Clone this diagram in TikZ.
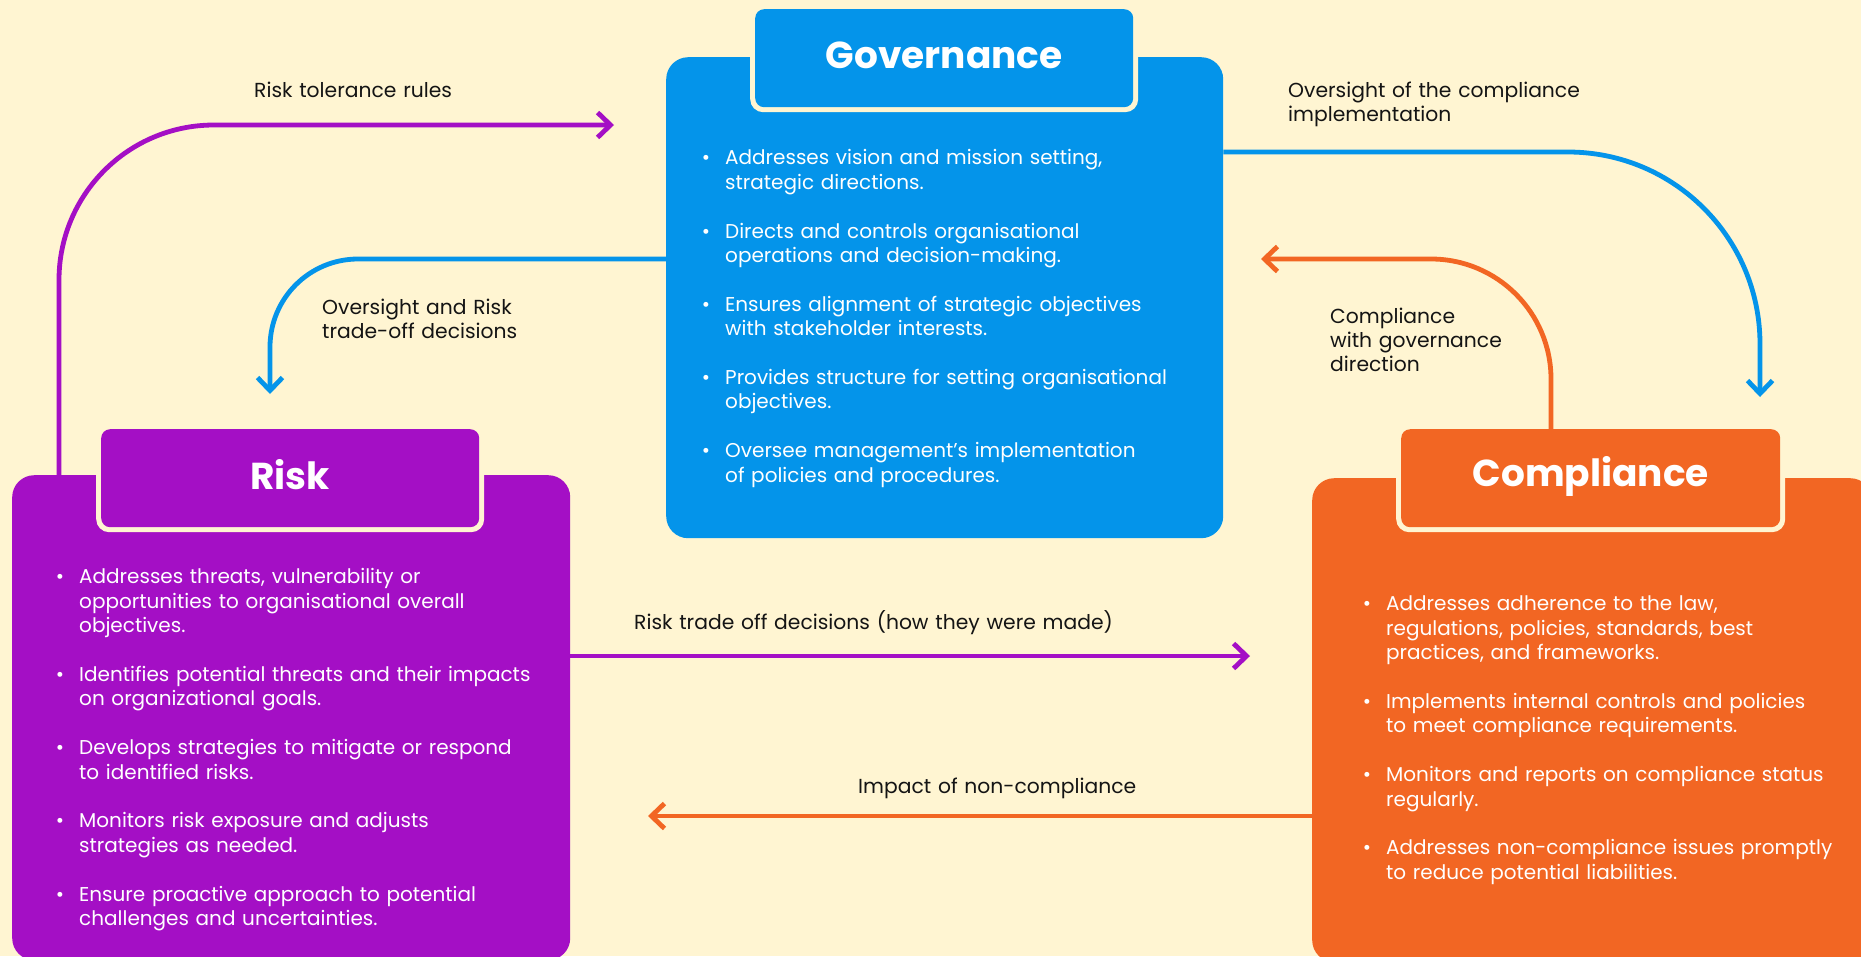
\documentclass[tikz,border=0pt]{standalone}
\usepackage{fontspec}
\setmainfont{Poppins}
\usetikzlibrary{arrows.meta,calc}

\definecolor{cream}{HTML}{FFF5D2}
\definecolor{govblue}{HTML}{0494EA}
\definecolor{riskpurple}{HTML}{A40FC5}
\definecolor{comporange}{HTML}{F26623}
\definecolor{labelink}{HTML}{141414}

% one bullet paragraph, the dot hangs in the left margin
\newcommand{\bpoint}{\par\noindent\llap{\textbullet\hspace{15pt}}}

\tikzset{
  mainbox/.style={rectangle, rounded corners=22pt, inner sep=0pt, anchor=north west},
  titleedge/.style={rectangle, rounded corners=13pt, inner sep=0pt, anchor=north west,
    fill=cream, minimum height=108pt},
  titlebox/.style={rectangle, rounded corners=9pt, inner sep=0pt, anchor=north west,
    minimum height=98pt},
  titletext/.style={inner sep=0pt, text=white, font=\fontsize{37.5}{42}\selectfont\bfseries},
  bodytext/.style={anchor=base west, inner sep=0pt, text width=560pt, align=left,
    text=white, font=\fontsize{20}{24.4}\selectfont},
  lbl/.style={anchor=base west, inner sep=0pt, text width=460pt, align=left,
    text=labelink, font=\fontsize{20.3}{24}\selectfont},
  flow/.style={line width=4.8pt,
    -{Straight Barb[length=13pt,width=25pt]}},
}

\begin{document}
\begin{tikzpicture}[x=1pt,y=-1pt]
  % canvas
  \fill[cream] (0,0) rectangle (1861,956);
  \useasboundingbox (0,0) rectangle (1861,956);

  % ---------- Governance ----------
  \node[mainbox, fill=govblue, minimum width=557pt, minimum height=481pt] (gov) at (666,57) {};
  \node[titleedge, minimum width=388pt] (govte) at (750,4) {};
  \node[titlebox, fill=govblue, minimum width=378pt] (govt) at (755,9) {};
  \node[titletext] (govtt) at ($(govt.center)+(0,-3)$) {Governance};
  \node[bodytext] (govtxt) at (725,116) {\parskip=24.4pt
    \bpoint Addresses vision and mission setting,\\ strategic directions.
    \bpoint Directs and controls organisational\\ operations and decision-making.
    \bpoint Ensures alignment of strategic objectives\\ with stakeholder interests.
    \bpoint Provides structure for setting organisational\\ objectives.
    \bpoint Oversee management’s implementation\\ of policies and procedures.\par};

  % ---------- Risk ----------
  \node[mainbox, fill=riskpurple, minimum width=558pt, minimum height=485pt] (risk) at (12,475) {};
  \node[titleedge, minimum width=388pt] (riskte) at (96,424) {};
  \node[titlebox, fill=riskpurple, minimum width=378pt] (riskt) at (101,429) {};
  \node[titletext] (risktt) at ($(riskt.center)+(0,-4)$) {Risk};
  \node[bodytext] (risktxt) at (79,535) {\parskip=24.4pt
    \bpoint Addresses threats, vulnerability or\\ opportunities to organisational overall\\ objectives.
    \bpoint Identifies potential threats and their impacts\\ on organizational goals.
    \bpoint Develops strategies to mitigate or respond\\ to identified risks.
    \bpoint Monitors risk exposure and adjusts\\ strategies as needed.
    \bpoint Ensure proactive approach to potential\\ challenges and uncertainties.\par};

  % ---------- Compliance ----------
  \node[mainbox, fill=comporange, minimum width=560pt, minimum height=484pt] (comp) at (1312,478) {};
  \node[titleedge, minimum width=389pt] (compte) at (1396,424) {};
  \node[titlebox, fill=comporange, minimum width=379pt] (compt) at (1401,429) {};
  \node[titletext] (comptt) at ($(compt.center)+(0,-2)$) {Compliance};
  \node[bodytext] (comptxt) at (1386,562) {\parskip=24.4pt
    \bpoint Addresses adherence to the law,\\ regulations, policies, standards, best\\ practices, and frameworks.
    \bpoint Implements internal controls and policies\\ to meet compliance requirements.
    \bpoint Monitors and reports on compliance status\\ regularly.
    \bpoint Addresses non-compliance issues promptly\\ to reduce potential liabilities.\par};

  % ---------- connector ends ----------
  \coordinate (tolEnd) at (614,125);
  \coordinate (orEnd) at (270,394);
  \coordinate (ocEnd) at (1760,397);
  \coordinate (cgEnd) at (1261,259);
  \coordinate (rtEnd) at (1250,656);
  \coordinate (ncEnd) at (648,816);

  % ---------- connectors ----------
  \draw[flow, riskpurple, rounded corners=155pt] ($(risk.north west)+(47,0)$) |- (tolEnd);
  \draw[flow, govblue, rounded corners=88pt] ($(gov.north west)+(0,202)$) -| (orEnd);
  \draw[flow, govblue, rounded corners=192pt] ($(gov.north east)+(0,95)$) -| (ocEnd);
  \draw[flow, comporange, rounded corners=120pt] ($(compt.north west)+(150,0)$) |- (cgEnd);
  \draw[flow, riskpurple] ($(risk.north east)+(0,181)$) -- (rtEnd);
  \draw[flow, comporange] ($(comp.north west)+(0,338)$) -- (ncEnd);

  % ---------- connector labels ----------
  \node[lbl] (tolLbl) at (254,97) {Risk tolerance rules};
  \node[lbl] (orLbl) at (322,314) {Oversight and Risk\\ trade-off decisions};
  \node[lbl] (ocLbl) at (1288,97) {Oversight of the compliance\\ implementation};
  \node[lbl] (cgLbl) at (1330,323) {Compliance\\ with governance\\ direction};
  \node[lbl, text width=560pt] (rtLbl) at (634,629) {Risk trade off decisions (how they were made)};
  \node[lbl] (ncLbl) at (858,793) {Impact of non-compliance};
\end{tikzpicture}
\end{document}
